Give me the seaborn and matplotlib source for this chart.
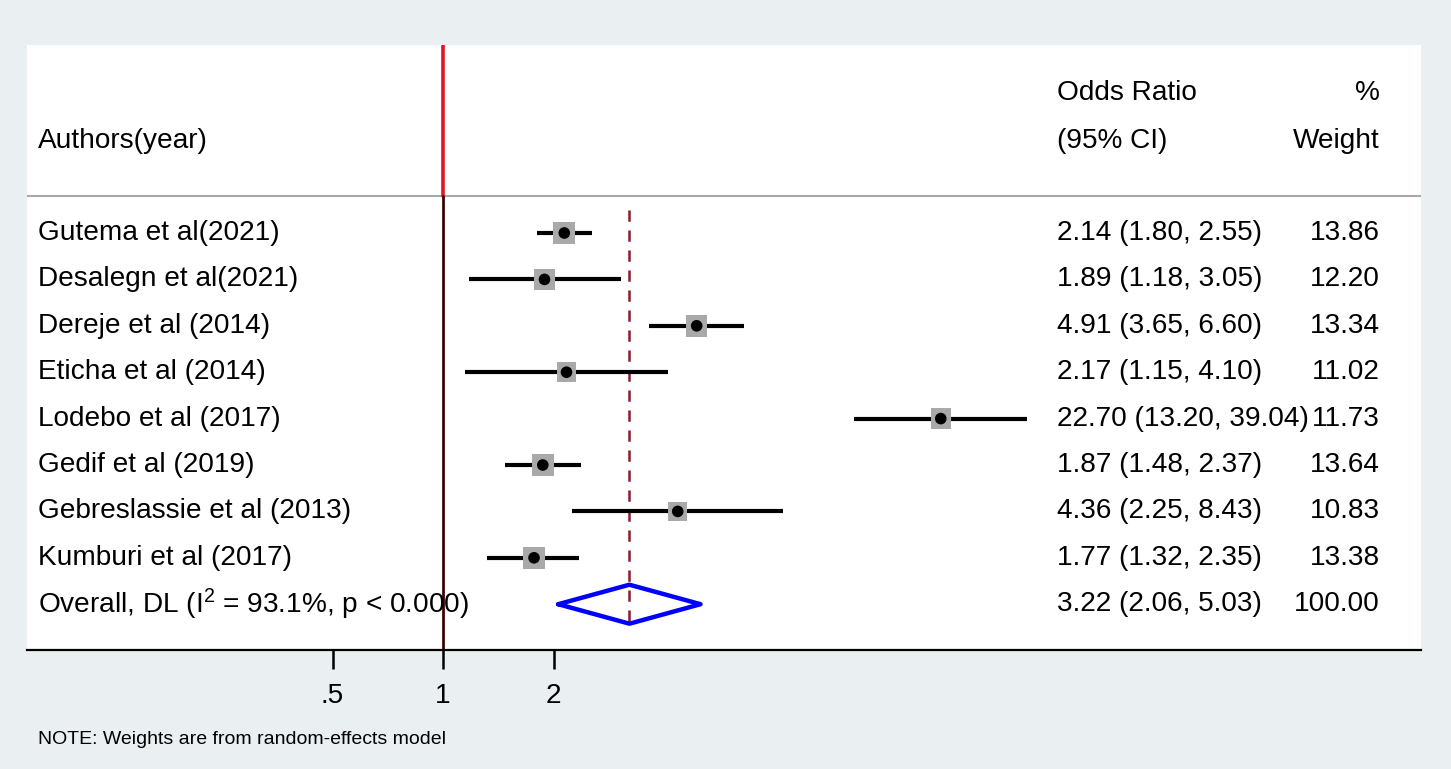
import numpy as np
import pandas as pd
import matplotlib
matplotlib.use("Agg")
import matplotlib.pyplot as plt
import seaborn as sns

# Data
authors = ["Gutema et al(2021)", "Desalegn et al(2021)", "Dereje et al (2014)",
           "Eticha et al (2014)", "Lodebo et al (2017)", "Gedif et al (2019)",
           "Gebreslassie et al (2013)", "Kumburi et al (2017)"]
odds = [2.14, 1.89, 4.91, 2.17, 22.70, 1.87, 4.36, 1.77]
ci_low = [1.80, 1.18, 3.65, 1.15, 13.20, 1.48, 2.25, 1.32]
ci_high = [2.55, 3.05, 6.60, 4.10, 39.04, 2.37, 8.43, 2.35]
weights = [13.86, 12.20, 13.34, 11.02, 11.73, 13.64, 10.83, 13.38]

overall_label = r"Overall, DL (I$^{\mathrm{2}}$ = 93.1%, p < 0.000)"
overall_or = 3.22
overall_low = 2.06
overall_high = 5.03
overall_weight = 100.00

tick_values = [0.5, 1, 2]
tick_labels = [".5", "1", "2"]

df = pd.DataFrame({"author": authors, "or": odds, "lo": ci_low, "hi": ci_high, "w": weights})
df["row"] = np.arange(len(df))

sns.set_theme(style="white")
plt.rcParams["font.family"] = ["Liberation Sans", "DejaVu Sans"]
plt.rcParams["text.color"] = "black"
plt.rcParams["xtick.color"] = "black"
plt.rcParams["xtick.labelcolor"] = "black"
plt.rcParams["mathtext.fontset"] = "custom"
plt.rcParams["mathtext.rm"] = "Liberation Sans"
plt.rcParams["mathtext.it"] = "Liberation Sans:italic"

W, H = 1451, 769
fig = plt.figure(figsize=(W / 100, H / 100), dpi=100, facecolor="#eaf0f2")
left, right, top, bottom = 27, 1421, 45, 650
ax = fig.add_axes([left / W, 1 - bottom / H, (right - left) / W, (bottom - top) / H])
ax.set_facecolor("white")

# x: log scale, 1 at pixel 443, ~110.5 px per doubling
px_per_doubling = 110.5
xmin = 2 ** (-(443 - left) / px_per_doubling)
xmax = 2 ** ((right - 443) / px_per_doubling)
ax.set_xscale("log")
ax.set_xlim(xmin, xmax)

row_h = 46.4
ytop = -(233 - top) / row_h
ybot = ytop + (bottom - top) / row_h
ax.set_ylim(ybot, ytop)

sep_y = ytop + (196 - top) / row_h
over_row = len(df)

# reference lines
ax.plot([1, 1], [ytop, sep_y], color="#e3161c", lw=2.6, zorder=2)
ax.plot([1, 1], [sep_y, ybot], color="#3a0606", lw=2.0, zorder=2)
ax.axhline(sep_y, color="#a8a8a8", lw=1.5, zorder=1)
ax.plot([overall_or, overall_or], [ytop + (210 - top) / row_h, over_row + 0.43],
        color="#8b1a2a", lw=1.8, ls=(0, (4.5, 3.5)), zorder=2)

# CIs
ax.hlines(df["row"], df["lo"], df["hi"], color="black", lw=3.0, zorder=3)

# weight boxes (side ~ sqrt(weight))
side_pt = 22 / 1.389 * np.sqrt(df["w"] / max(weights))
ax.scatter(df["or"], df["row"], s=side_pt ** 2, marker="s", color="#a9a9a9",
           linewidths=0, zorder=4)
sns.scatterplot(data=df, x="or", y="row", ax=ax, color="black", s=70,
                edgecolor="none", zorder=5, legend=False)

# overall diamond
dh = 0.42
ax.plot([overall_low, overall_or, overall_high, overall_or, overall_low],
        [over_row, over_row - dh, over_row, over_row + dh, over_row],
        color="#0000ff", lw=3.2, zorder=4)

# text columns
fs = 20.2
tx_author = (38 - left) / (right - left)
tx_or = (1057 - left) / (right - left)
tx_w = (1380 - left) / (right - left)
trans = ax.get_yaxis_transform()
hdr1 = ytop + (93 - top) / row_h
hdr2 = ytop + (141 - top) / row_h
ax.text(tx_author, hdr2, "Authors(year)", transform=trans, fontsize=fs, va="center", ha="left")
ax.text(tx_or, hdr1, "Odds Ratio", transform=trans, fontsize=fs, va="center", ha="left")
ax.text(tx_or, hdr2, "(95% CI)", transform=trans, fontsize=fs, va="center", ha="left")
ax.text(tx_w, hdr1, "%", transform=trans, fontsize=fs, va="center", ha="right")
ax.text(tx_w, hdr2, "Weight", transform=trans, fontsize=fs, va="center", ha="right")

for i, r in df.iterrows():
    ax.text(tx_author, r["row"], r["author"], transform=trans, fontsize=fs, va="center", ha="left")
    ax.text(tx_or, r["row"], f"{r['or']:.2f} ({r['lo']:.2f}, {r['hi']:.2f})",
            transform=trans, fontsize=fs, va="center", ha="left")
    ax.text(tx_w, r["row"], f"{r['w']:.2f}", transform=trans, fontsize=fs, va="center", ha="right")

ax.text(tx_author, over_row, overall_label, transform=trans, fontsize=fs, va="center", ha="left")
ax.text(tx_or, over_row, f"{overall_or:.2f} ({overall_low:.2f}, {overall_high:.2f})",
        transform=trans, fontsize=fs, va="center", ha="left")
ax.text(tx_w, over_row, f"{overall_weight:.2f}", transform=trans, fontsize=fs, va="center", ha="right")

# axis
for s in ["top", "left", "right"]:
    ax.spines[s].set_visible(False)
ax.spines["bottom"].set_color("black")
ax.spines["bottom"].set_linewidth(1.6)
ax.set_xticks(tick_values)
ax.set_xticklabels(tick_labels)
ax.xaxis.set_minor_locator(matplotlib.ticker.NullLocator())
ax.tick_params(axis="x", direction="out", length=14, width=1.8, color="black",
               labelsize=fs, pad=10, bottom=True)
ax.set_yticks([])
ax.set_xlabel("")
ax.set_ylabel("")

fig.text(38 / W, 1 - 740 / H, "NOTE: Weights are from random-effects model",
         fontsize=14, va="center", ha="left")

fig.savefig("out.png", dpi=100, facecolor=fig.get_facecolor())
